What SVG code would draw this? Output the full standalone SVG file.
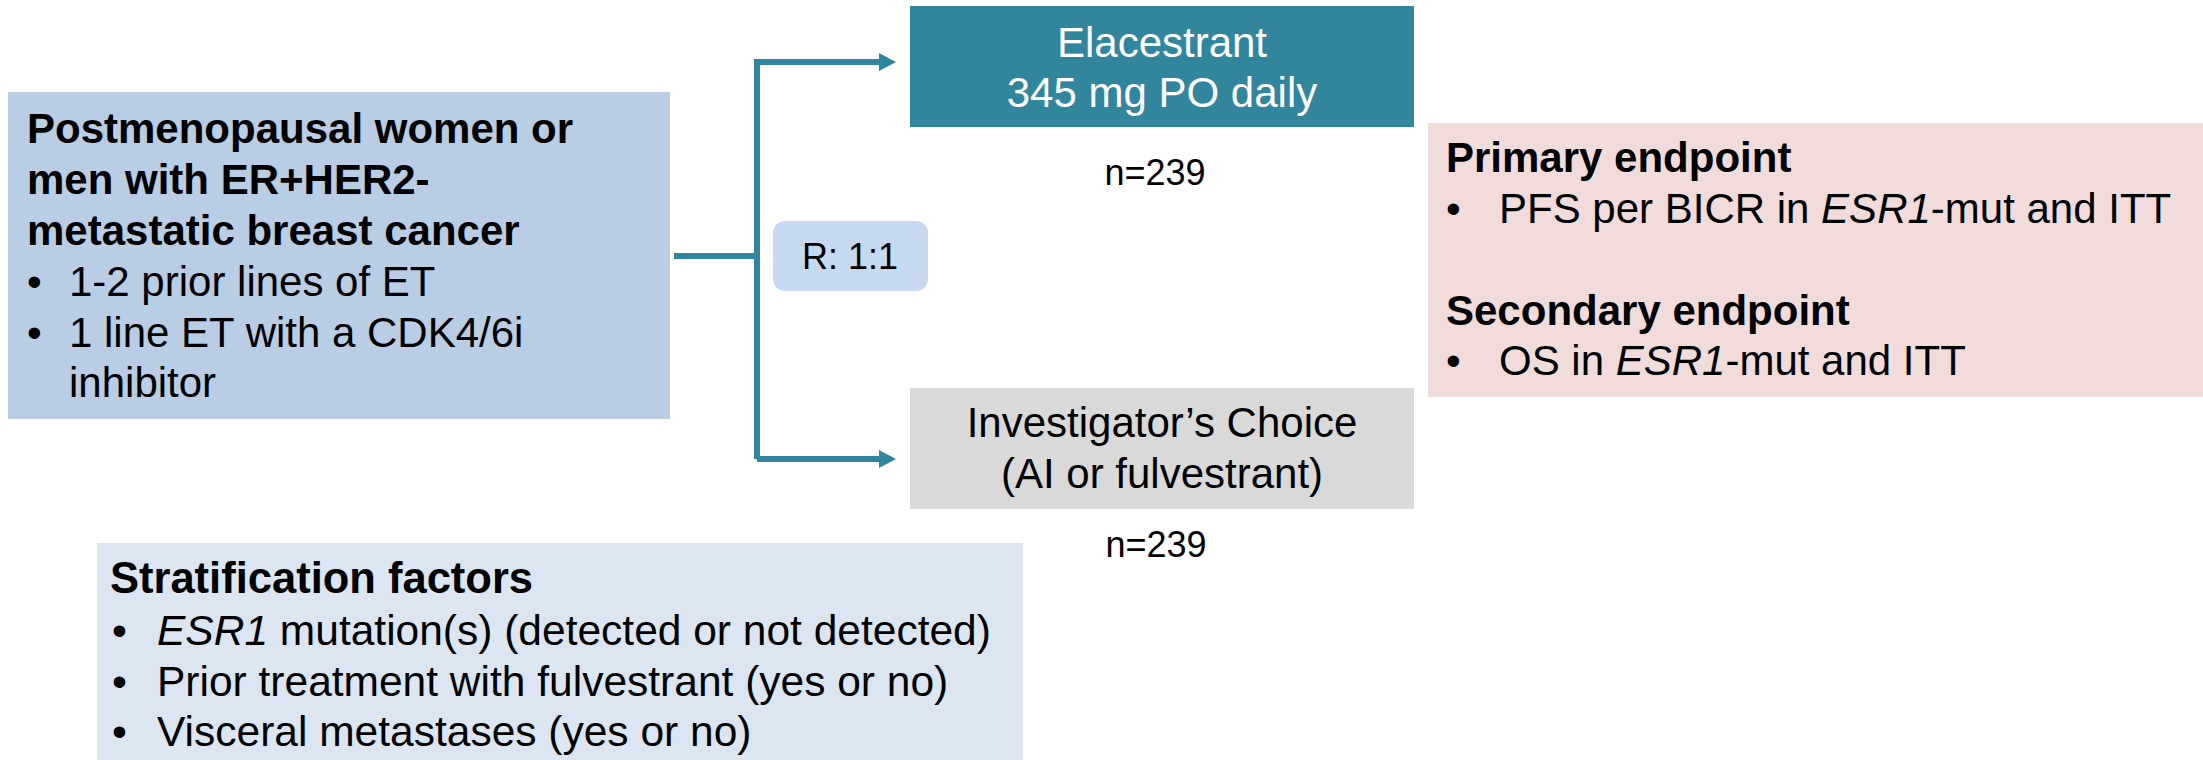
<svg xmlns="http://www.w3.org/2000/svg" width="2203" height="760" viewBox="0 0 2203 760">
<defs>
<style>
text{font-family:"Liberation Sans",Arial,sans-serif;font-size:42px;fill:#000}
.b{font-weight:bold}
.w{fill:#fff}
.c{text-anchor:middle}
.s{font-size:36px}
.i{font-style:italic}
.st{font-size:42.5px}
.stt{font-size:43.5px}
.conn{fill:none;stroke:#31859C;stroke-width:6}
</style>
<marker id="ah" markerUnits="userSpaceOnUse" markerWidth="18" markerHeight="20" refX="0" refY="9" orient="auto">
<path d="M0,0 L17,9 L0,18 Z" fill="#31859C"/>
</marker>
</defs>
<rect width="2203" height="760" fill="#fff"/>

<g id="population">
<rect x="8" y="92" width="662" height="327" fill="#B9CDE5"/>
<text class="b" x="27" y="143">Postmenopausal women or</text>
<text class="b" x="27" y="194">men with ER+HER2-</text>
<text class="b" x="27" y="245">metastatic breast cancer</text>
<text x="27" y="296">•</text><text x="69" y="296">1-2 prior lines of ET</text>
<text x="27" y="347">•</text><text x="69" y="347">1 line ET with a CDK4/6i</text>
<text x="69" y="397">inhibitor</text>
</g>

<g id="connectors">
<path class="conn" d="M674,256 H757"/>
<path class="conn" d="M757,459 V62 H879" marker-end="url(#ah)"/>
<path class="conn" d="M757,459 H879" marker-end="url(#ah)"/>
</g>

<g id="randomization">
<rect x="773" y="221" width="155" height="70" rx="12" fill="#C6D9F1"/>
<text class="c s" x="850" y="269">R: 1:1</text>
</g>

<g id="elacestrant">
<rect x="910" y="6" width="504" height="121" fill="#31859C"/>
<text class="c w" x="1162" y="57">Elacestrant</text>
<text class="c w" x="1162" y="107">345 mg PO daily</text>
</g>
<g id="n1"><text class="c s" x="1155" y="185">n=239</text></g>

<g id="investigator">
<rect x="910" y="388" width="504" height="121" fill="#D9D9D9"/>
<text class="c" x="1162" y="437">Investigator’s Choice</text>
<text class="c" x="1162" y="488">(AI or fulvestrant)</text>
</g>
<g id="n2"><text class="c s" x="1156" y="557">n=239</text></g>

<g id="endpoints">
<rect x="1428" y="123" width="775" height="274" fill="#F2DCDB"/>
<text class="b" x="1446" y="172">Primary endpoint</text>
<text x="1446" y="223">•</text><text x="1499" y="223">PFS per BICR in <tspan class="i">ESR1</tspan>-mut and ITT</text>
<text class="b" x="1446" y="325">Secondary endpoint</text>
<text x="1446" y="375">•</text><text x="1499" y="375">OS in <tspan class="i">ESR1</tspan>-mut and ITT</text>
</g>

<g id="stratification">
<rect x="97" y="543" width="926" height="217" fill="#DCE6F2"/>
<text class="b stt" x="110" y="593">Stratification factors</text>
<text class="st" x="112" y="645">•</text><text class="st" x="157" y="645"><tspan class="i">ESR1</tspan> mutation(s) (detected or not detected)</text>
<text class="st" x="112" y="696">•</text><text class="st" x="157" y="696">Prior treatment with fulvestrant (yes or no)</text>
<text class="st" x="112" y="746">•</text><text class="st" x="157" y="746">Visceral metastases (yes or no)</text>
</g>
</svg>
